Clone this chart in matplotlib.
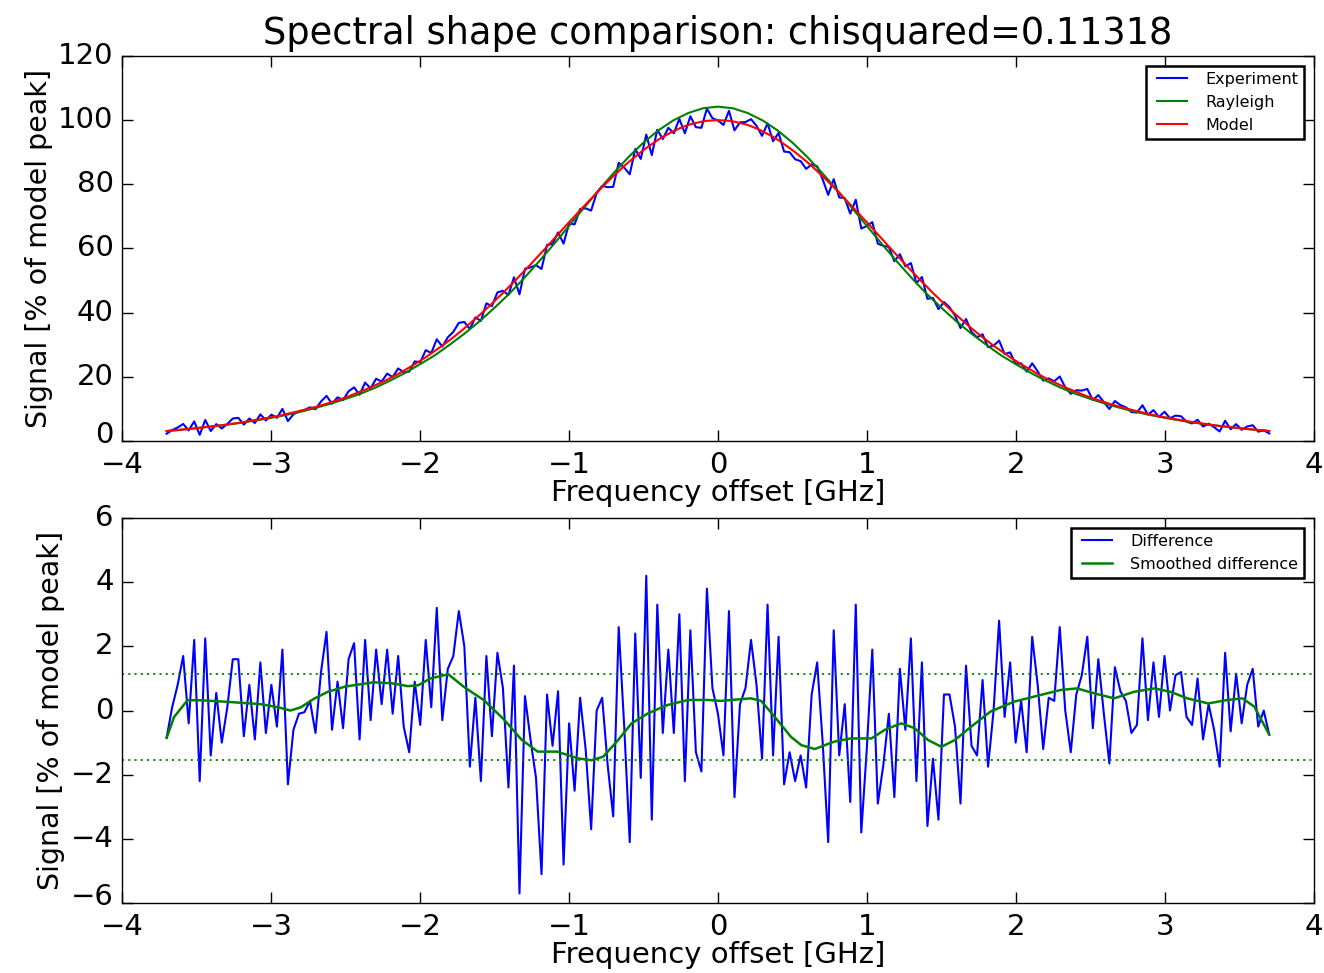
import numpy as np
import matplotlib
matplotlib.use('Agg')
import matplotlib.pyplot as plt
import matplotlib.transforms as mtransforms

# measurement grid (GHz), 201 points from -3.7 to 3.7
freq = np.linspace(-3.7, 3.7, 201)

# model profile from 0 to 3.7 GHz on the same grid step (% of model peak)
model_half = [
    100.0, 99.9, 99.8, 99.5, 99.1, 98.7, 98.1, 97.4, 96.6, 95.7,
    94.8, 93.7, 92.5, 91.3, 90.0, 88.6, 87.2, 85.7, 84.1, 82.5,
    80.8, 79.1, 77.3, 75.5, 73.7, 71.9, 70.0, 68.2, 66.3, 64.4,
    62.5, 60.6, 58.7, 56.9, 55.0, 53.2, 51.4, 49.6, 47.9, 46.1,
    44.5, 42.8, 41.2, 39.6, 38.1, 36.6, 35.1, 33.7, 32.3, 31.0,
    29.7, 28.5, 27.3, 26.1, 25.0, 23.9, 22.9, 21.9, 20.9, 20.0,
    19.1, 18.3, 17.5, 16.7, 16.0, 15.3, 14.6, 13.9, 13.3, 12.7,
    12.2, 11.6, 11.1, 10.6, 10.2, 9.7, 9.3, 8.9, 8.5, 8.1,
    7.7, 7.4, 7.1, 6.8, 6.5, 6.2, 5.9, 5.6, 5.4, 5.2,
    4.9, 4.7, 4.5, 4.3, 4.1, 3.9, 3.7, 3.6, 3.4, 3.3,
    3.1]

# Rayleigh profile from 0 to 3.7 GHz in 0.1 GHz steps
ray_half = [104.2, 103.7, 102.2, 99.9, 96.8, 93.0, 88.5, 83.5, 78.2, 72.6,
            67.0, 61.4, 56.0, 50.8, 45.9, 41.5, 37.3, 33.5, 30.0, 26.7,
            23.9, 21.2, 18.8, 16.6, 14.7, 13.1, 11.6, 10.3, 9.1, 8.1,
            7.2, 6.4, 5.7, 5.0, 4.5, 4.0, 3.5, 3.1]

# experiment - model, on the measurement grid
difference = [
    -0.85, 0.1, 0.8, 1.7, -0.4, 2.2, -2.2, 2.25, -1.4, 0.55,
    -1.0, 0.1, 1.6, 1.6, -0.8, 0.8, -0.9, 1.5, -0.7, 0.8,
    -0.5, 1.9, -2.3, -0.6, -0.1, -0.05, 0.3, -0.7, 1.2, 2.45,
    -0.6, 0.9, -0.55, 1.6, 2.1, -0.9, 2.2, -0.3, 1.9, 0.2,
    1.9, -0.1, 1.7, -0.5, -1.3, 0.9, -0.45, 2.2, 0.1, 3.2,
    -0.3, 1.3, 1.7, 3.1, 2.0, -1.75, 0.4, -2.2, 1.7, -0.8,
    1.8, 0.7, -2.4, 1.4, -5.7, 0.45, -0.9, -2.1, -5.1, 0.5,
    -1.1, 0.6, -4.8, -0.4, -2.5, 0.4, -1.2, -3.7, 0.0, 0.4,
    -1.7, -3.3, 2.6, -0.5, -4.1, 2.4, -2.1, 4.2, -3.4, 3.3,
    -0.7, 1.9, -0.7, 3.0, -2.2, 2.5, -1.3, -1.9, 3.8, 0.7,
    -0.1, -1.4, 3.1, -2.7, 0.2, 0.7, 2.2, 0.8, -1.5, 3.3,
    -1.4, 2.3, -2.3, -1.3, -2.2, -1.4, -2.4, 0.5, 1.5, -1.0,
    -4.1, 2.5, -1.4, 0.2, -2.85, 3.3, -3.8, -1.2, 1.9, -2.9,
    -1.7, -0.1, -2.7, 1.3, -0.6, 2.25, -2.2, 1.5, -3.6, -1.5,
    -3.4, 0.5, 0.5, -0.5, -2.9, 1.4, -1.1, -1.4, 0.95, -1.75,
    0.0, 2.8, -0.2, 1.5, -1.0, 0.3, -1.3, 2.3, 0.8, -1.2,
    0.4, 0.3, 2.6, 0.0, -1.3, 0.5, 1.1, 2.3, -0.55, 1.6,
    -0.1, -1.65, 1.35, 0.6, 0.3, -0.7, -0.45, 2.25, -0.3, 1.5,
    -0.2, 1.7, 0.0, 1.1, 1.2, -0.2, -0.45, 1.0, -0.9, 0.2,
    -0.6, -1.75, 1.8, -0.65, 1.15, -0.4, 0.8, 1.3, -0.5, 0.0,
    -0.75]

# smoothed difference
smooth_x = [-3.70, -3.65, -3.56, -3.47, -3.29, -3.07, -2.95, -2.87, -2.80, -2.71,
            -2.62, -2.50, -2.31, -2.19, -2.08, -2.01, -1.93, -1.81, -1.70, -1.57,
            -1.44, -1.32, -1.21, -1.08, -0.94, -0.85, -0.77, -0.67, -0.58, -0.47,
            -0.34, -0.20, -0.07, 0.02, 0.22, 0.29, 0.38, 0.49, 0.56, 0.65,
            0.78, 0.89, 1.03, 1.12, 1.23, 1.32, 1.41, 1.50, 1.59, 1.70,
            1.83, 1.99, 2.17, 2.30, 2.41, 2.53, 2.66, 2.79, 2.93, 3.04,
            3.15, 3.29, 3.42, 3.52, 3.60, 3.70]
smooth_y = [-0.85, -0.2, 0.32, 0.32, 0.27, 0.2, 0.1, 0.0, 0.1, 0.37,
            0.58, 0.75, 0.88, 0.85, 0.76, 0.79, 1.0, 1.13, 0.72, 0.32,
            -0.26, -0.9, -1.28, -1.28, -1.49, -1.55, -1.44, -0.92, -0.4, -0.09,
            0.17, 0.33, 0.33, 0.3, 0.38, 0.3, -0.19, -0.82, -1.08, -1.2,
            -0.97, -0.87, -0.87, -0.6, -0.4, -0.55, -0.92, -1.13, -0.92, -0.5,
            -0.03, 0.28, 0.49, 0.64, 0.69, 0.53, 0.38, 0.58, 0.69, 0.58,
            0.38, 0.22, 0.33, 0.38, 0.12, -0.75]

# limits of the smoothed difference (dotted lines)
diff_limits = [1.13, -1.55]
chisq = 0.11318

model_half = np.array(model_half)
ray_half = np.array(ray_half)
model = np.concatenate([model_half[:0:-1], model_half])
ray_x = np.arange(-37, 38) / 10.0
rayleigh = np.concatenate([ray_half[:0:-1], ray_half])
experiment = model + np.array(difference)

plt.style.use('classic')
plt.rcParams['figure.facecolor'] = 'white'
plt.rcParams['savefig.facecolor'] = 'white'
plt.rcParams['font.family'] = 'DejaVu Sans'

fig = plt.figure(figsize=(13.24, 9.73), dpi=100)
ax1 = fig.add_axes([0.0921, 0.5468, 0.9003, 0.3957])
ax2 = fig.add_axes([0.0921, 0.0719, 0.9003, 0.3957])

ax1.plot(freq, experiment, color='b', lw=1.5, label='Experiment')
ax1.plot(ray_x, rayleigh, color='g', lw=1.5, label='Rayleigh')
ax1.plot(freq, model, color='r', lw=1.5, label='Model')
ax1.set_xlim(-4, 4)
ax1.set_ylim(0, 120)
ax1.set_xlabel('Frequency offset [GHz]', fontsize=21, labelpad=0)
ax1.set_ylabel('Signal [% of model peak]', fontsize=20.5, labelpad=4)
ax1.set_title('Spectral shape comparison: chisquared=%.5f' % chisq, fontsize=26.5, y=1.012)
leg1 = ax1.legend(loc='upper right', fontsize=11.5, borderaxespad=0.6, handlelength=2.5)
leg1.get_frame().set_linewidth(1.8)

ax2.plot(freq, difference, color='b', lw=1.5, label='Difference')
ax2.plot(smooth_x, smooth_y, color='g', lw=1.8, label='Smoothed difference')
for lim in diff_limits:
    ax2.axhline(lim, color='g', ls=(0, (1.5, 3)), lw=1.3)
ax2.set_xlim(-4, 4)
ax2.set_ylim(-6, 6)
ax2.set_xlabel('Frequency offset [GHz]', fontsize=21, labelpad=0)
ax2.set_ylabel('Signal [% of model peak]', fontsize=20.5, labelpad=4)
leg2 = ax2.legend(loc='upper right', fontsize=11.5, borderaxespad=0.6, handlelength=2.5)
leg2.get_frame().set_linewidth(1.8)

for ax in (ax1, ax2):
    ax.tick_params(labelsize=21, length=8, width=1)
    ax.tick_params(axis='x', pad=7)
    ax.tick_params(axis='y', pad=6)

# lift the lowest y tick label a little so it clears the first x tick label
fig.canvas.draw()
for ax in (ax1, ax2):
    low = ax.get_yticklabels()[0]
    low.set_transform(low.get_transform() +
                      mtransforms.ScaledTranslation(0, 4 / 72.0, fig.dpi_scale_trans))

fig.savefig('out.png', dpi=100)
